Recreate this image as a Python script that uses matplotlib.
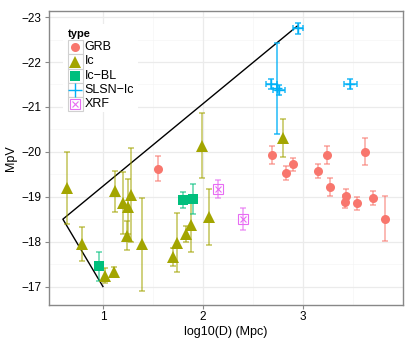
import numpy as np
import matplotlib
matplotlib.use('Agg')
import matplotlib.pyplot as plt
from matplotlib.lines import Line2D
from matplotlib.patches import Rectangle

plt.rcParams['font.family'] = ['Liberation Sans', 'DejaVu Sans']

# ---- data ----
grb_x = [1.55, 2.69, 2.83, 2.90, 3.15, 3.24, 3.27, 3.43, 3.42, 3.54, 3.62, 3.70, 3.82]
grb_y = [-19.62, -19.93, -19.53, -19.72, -19.57, -19.92, -19.21, -19.02, -18.89, -18.85, -20.00, -18.97, -18.51]
grb_e = [0.28, 0.20, 0.15, 0.15, 0.16, 0.20, 0.20, 0.16, 0.15, 0.15, 0.30, 0.15, 0.50]

ic_x = [0.64, 0.79, 1.02, 1.11, 1.12, 1.20, 1.25, 1.28, 1.24, 1.39,
        1.70, 1.74, 1.83, 1.88, 1.99, 2.06, 2.80]
ic_y = [-19.20, -17.94, -17.24, -17.33, -19.12, -18.86, -18.78, -19.04, -18.13, -17.94,
        -17.65, -17.98, -18.17, -18.37, -20.14, -18.55, -20.31]
ic_e = [0.80, 0.38, 0.17, 0.10, 0.45, 0.70, 0.62, 1.05, 0.32, 1.03,
        0.20, 0.65, 0.18, 0.59, 0.72, 0.63, 0.43]

icbl_x = [0.96, 1.80, 1.90]
icbl_y = [-17.45, -18.93, -18.95]
icbl_e = [0.32, 0.17, 0.33]

slsn_x = [2.95, 2.68, 2.76, 2.74, 3.47]
slsn_y = [-22.75, -21.51, -21.38, -21.41, -21.51]
slsn_e = [0.12, 0.11, 0.11, 1.01, 0.12]
slsn_xe = [0.05, 0.055, 0.06, 0.0, 0.065]

xrf_x = [2.15, 2.40]
xrf_y = [-19.17, -18.51]
xrf_e = [0.20, 0.25]

line_x = [1.0, 0.6, 2.94]
line_y = [-17.0, -18.5, -22.8]

types = ['GRB', 'Ic', 'Ic-BL', 'SLSN-Ic', 'XRF']
colors = {'GRB': '#F8766D', 'Ic': '#A3A500', 'Ic-BL': '#00BF7D',
          'SLSN-Ic': '#00B0F6', 'XRF': '#E76BF3'}

W, H = 415, 341
fig = plt.figure(figsize=(W / 100, H / 100), dpi=100)
ax = fig.add_axes([0.117, 0.107, 0.855, 0.860])

# grid like theme_bw
for v in [1.5, 2.5, 3.5]:
    ax.axvline(v, color='#F5F5F5', lw=0.5, zorder=0)
for v in [-22.5, -21.5, -20.5, -19.5, -18.5, -17.5]:
    ax.axhline(v, color='#F5F5F5', lw=0.5, zorder=0)
for v in [1, 2, 3]:
    ax.axvline(v, color='#EBEBEB', lw=0.9, zorder=0)
for v in [-23, -22, -21, -20, -19, -18, -17]:
    ax.axhline(v, color='#EBEBEB', lw=0.9, zorder=0)

ax.plot(line_x, line_y, color='black', lw=1.0, zorder=2)

ekw = dict(fmt='none', capsize=2.2, elinewidth=1.2, capthick=1.2, alpha=0.6, zorder=3)
ax.errorbar(grb_x, grb_y, yerr=grb_e, ecolor=colors['GRB'], **ekw)
ax.errorbar(ic_x, ic_y, yerr=ic_e, ecolor=colors['Ic'], **ekw)
ax.errorbar(icbl_x, icbl_y, yerr=icbl_e, ecolor=colors['Ic-BL'], **ekw)
ax.errorbar(xrf_x, xrf_y, yerr=xrf_e, ecolor=colors['XRF'], **ekw)
ax.errorbar(slsn_x, slsn_y, yerr=slsn_e, xerr=slsn_xe, ecolor=colors['SLSN-Ic'],
            fmt='none', capsize=2.2, elinewidth=1.2, capthick=1.2, alpha=0.8, zorder=3)

ax.plot(grb_x, grb_y, 'o', color=colors['GRB'], ms=6.5, mew=0, zorder=4)
ax.plot(ic_x, ic_y, '^', color=colors['Ic'], ms=8, mew=0, zorder=4)
ax.plot(icbl_x, icbl_y, 's', color=colors['Ic-BL'], ms=6.5, mew=0, zorder=4)
ax.plot(slsn_x, slsn_y, '+', color=colors['SLSN-Ic'], ms=7, mew=1.0, zorder=4)
ax.plot(xrf_x, xrf_y, 's', mfc='none', mec=colors['XRF'], ms=6.5, mew=0.8, zorder=4)
ax.plot(xrf_x, xrf_y, 'x', color=colors['XRF'], ms=5, mew=0.8, zorder=4)

ax.set_xlim(0.457, 4.0)
ax.set_ylim(-16.6, -23.13)
ax.set_xticks([1, 2, 3])
ax.set_yticks([-23, -22, -21, -20, -19, -18, -17])
ax.set_yticklabels(['\u221223', '\u221222', '\u221221', '\u221220', '\u221219', '\u221218', '\u221217'])
ax.tick_params(labelsize=8.5, length=3, color='#888888', width=0.8, pad=2, labelcolor='black')
for s in ax.spines.values():
    s.set_color('#888888')
    s.set_linewidth(1.0)
ax.set_xlabel('log10(D) (Mpc)', fontsize=9, labelpad=2)
ax.set_ylabel('MpV', fontsize=9, labelpad=3)

# ---- legend drawn by hand in pixel positions (ggplot style keys) ----
def fx(px):
    return px / W

def fy(py):
    return 1 - py / H

fig.add_artist(Rectangle((fx(63), fy(112)), fx(138) - fx(63), fy(24) - fy(112),
                         transform=fig.transFigure, facecolor='white', edgecolor='none', zorder=5))
fig.text(fx(68), fy(34), 'type', fontsize=8, fontweight='bold', ha='left', va='center', zorder=6)
key_h = 14.2
key_markers = {
    'GRB': [dict(marker='o', color=colors['GRB'], ms=6.5, mew=0)],
    'Ic': [dict(marker='^', color=colors['Ic'], ms=8, mew=0)],
    'Ic-BL': [dict(marker='s', color=colors['Ic-BL'], ms=6.5, mew=0)],
    'SLSN-Ic': [dict(marker='+', color=colors['SLSN-Ic'], ms=10, mew=1.0)],
    'XRF': [dict(marker='s', mfc='none', mec=colors['XRF'], ms=6.5, mew=0.8),
            dict(marker='x', color=colors['XRF'], ms=5, mew=0.8)],
}
for i, t in enumerate(types):
    cy = 47.3 + i * key_h
    fig.add_artist(Rectangle((fx(67.5), fy(cy + key_h / 2)), fx(82.5) - fx(67.5), key_h / H,
                             transform=fig.transFigure, facecolor='white',
                             edgecolor='#D0D0D0', lw=0.8, zorder=6))
    for mk in key_markers[t]:
        fig.add_artist(Line2D([fx(75)], [fy(cy)], transform=fig.transFigure,
                              ls='none', zorder=7, **mk))
    fig.text(fx(84.5), fy(cy), t.replace('-', '\u2212'), fontsize=9,
             ha='left', va='center', zorder=7)

fig.savefig('out.png', dpi=100)
